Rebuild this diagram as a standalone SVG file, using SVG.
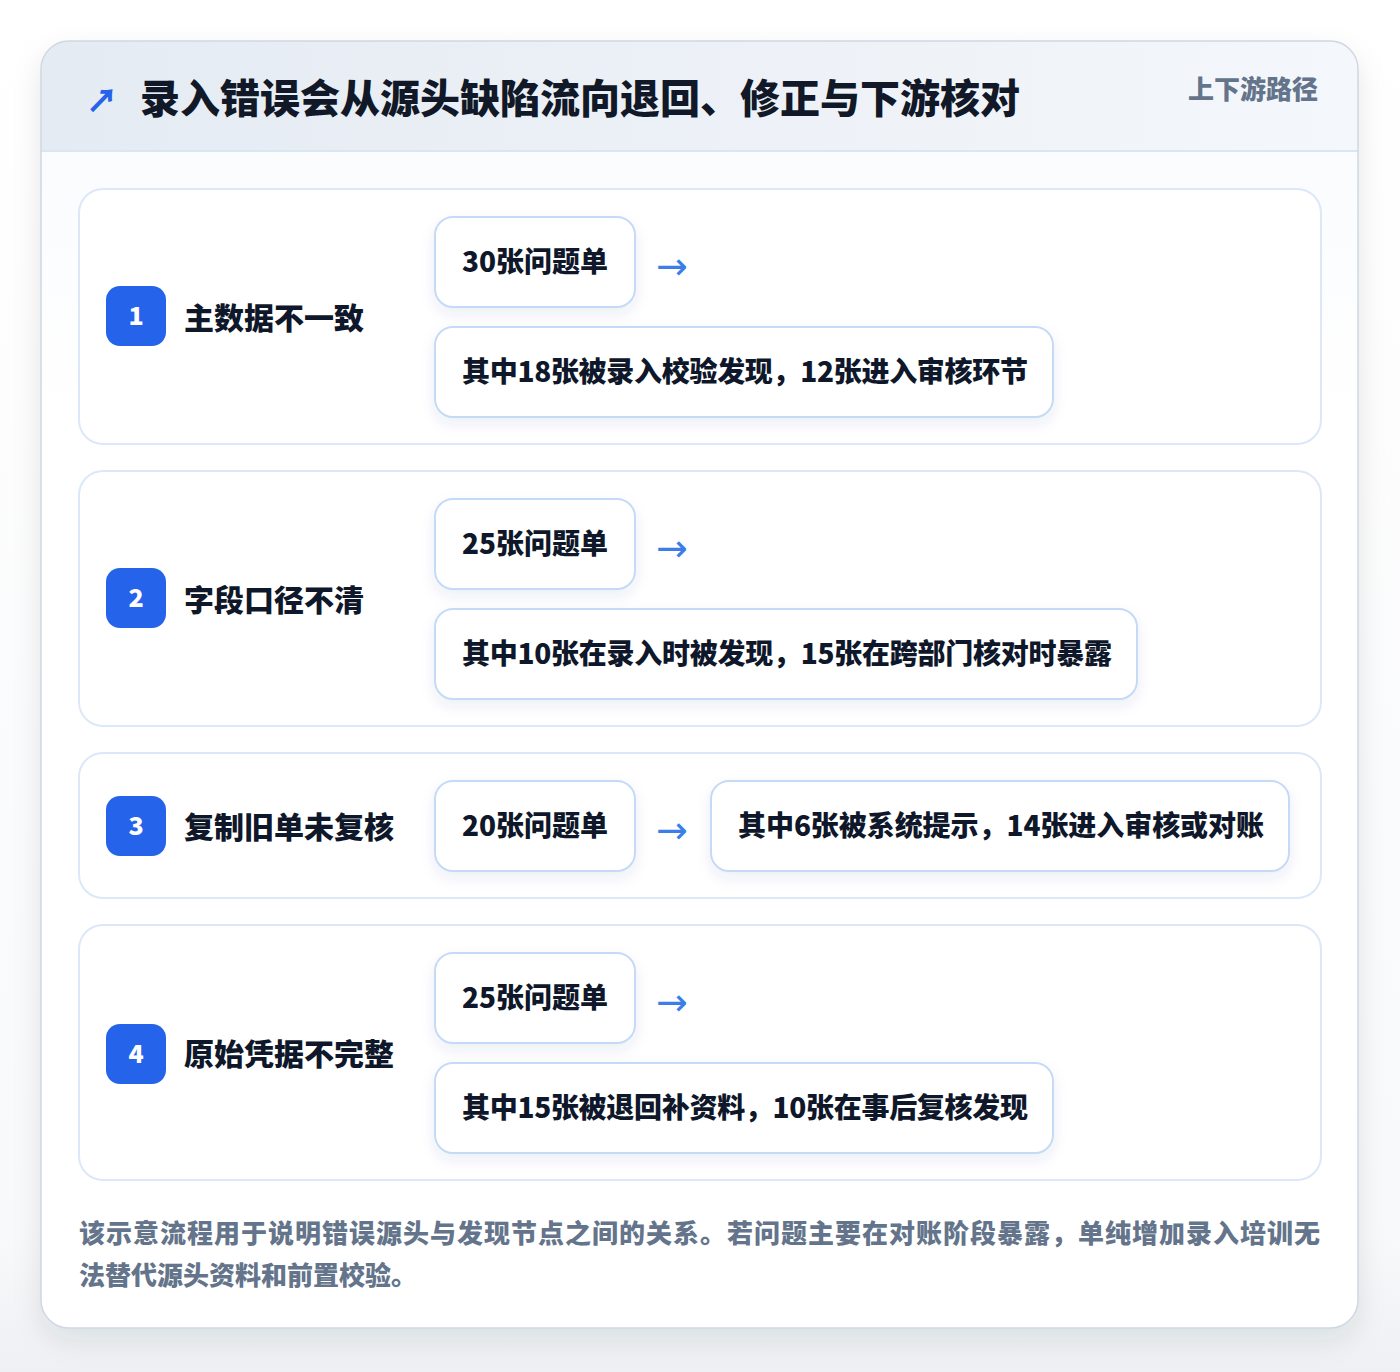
<svg xmlns="http://www.w3.org/2000/svg" width="1400" height="1372" viewBox="0 0 1400 1372">
<defs>
<linearGradient id="hdr" x1="0" y1="0" x2="1" y2="0">
<stop offset="0" stop-color="#e5ebf3"/>
<stop offset="1" stop-color="#f4f7fb"/>
</linearGradient>
<linearGradient id="body" x1="0" y1="0" x2="0" y2="1">
<stop offset="0" stop-color="#f8fafd"/>
<stop offset="0.3" stop-color="#ffffff"/>
<stop offset="1" stop-color="#ffffff"/>
</linearGradient>
<linearGradient id="page" x1="0" y1="0" x2="0" y2="1">
<stop offset="0" stop-color="#ffffff"/>
<stop offset="0.9" stop-color="#f8f9fb"/>
<stop offset="1" stop-color="#eef0f3"/>
</linearGradient>
<filter id="cardShadow" x="-10%" y="-10%" width="120%" height="120%">
<feDropShadow dx="0" dy="12" stdDeviation="14" flood-color="#1e293b" flood-opacity="0.10"/>
</filter>
<filter id="chipShadow" x="-20%" y="-30%" width="140%" height="170%">
<feDropShadow dx="0" dy="6" stdDeviation="7" flood-color="#1e3a8a" flood-opacity="0.08"/>
</filter>
<clipPath id="cardClip"><rect x="41" y="41" width="1317" height="1287" rx="28"/></clipPath>
</defs>
<style>
.cjk{font-family:"Noto Sans CJK SC","Noto Sans",sans-serif;font-weight:900}
.title{font-size:40px;fill:#111827}
.tag{font-size:26px;fill:#64748b}
.row{fill:#ffffff;stroke:#dce8f8;stroke-width:2}
.badge{fill:#2563eb}
.num{font-family:"Noto Sans CJK SC","Noto Sans",sans-serif;font-weight:900;font-size:25px;fill:#ffffff}
.label{font-size:30px;fill:#0f172a}
.chip{fill:#ffffff;stroke:#c5daf6;stroke-width:2}
.chiptxt{font-size:28px;fill:#0f172a}
.arrow{font-family:"DejaVu Sans",sans-serif;font-weight:400;font-size:38px;fill:#3b7de9}
.foot{font-size:26px;fill:#64748b}
</style>
<rect x="0" y="0" width="1400" height="1372" fill="url(#page)"/>
<g id="card">
<rect x="41" y="41" width="1317" height="1287" rx="28" fill="url(#body)" filter="url(#cardShadow)"/>
<g clip-path="url(#cardClip)">
<rect x="41" y="41" width="1317" height="110" fill="url(#hdr)"/>
<line x1="41" y1="151" x2="1358" y2="151" stroke="#dbe6f3" stroke-width="2"/>
</g>
<rect x="41" y="41" width="1317" height="1287" rx="28" fill="none" stroke="#cfd8e3" stroke-width="1.5"/>
</g>
<g id="header">
<text class="cjk" x="86" y="112" font-size="32" fill="#2563eb">↗</text>
<text class="cjk title" x="140" y="113">录入错误会从源头缺陷流向退回、修正与下游核对</text>
<text class="cjk tag" x="1188" y="99">上下游路径</text>
</g>
<g id="row1">
<rect class="row" x="79" y="189" width="1242" height="255" rx="24"/>
<rect class="badge" x="106" y="286" width="60" height="60" rx="14"/>
<text class="num" x="136" y="325" text-anchor="middle">1</text>
<text class="cjk label" x="184" y="329">主数据不一致</text>
<g id="row1-a"><rect class="chip" x="435" y="217" width="200" height="90" rx="18" filter="url(#chipShadow)"/>
<text class="cjk chiptxt" x="462" y="272">30张问题单</text></g>
<g id="row1-b"><rect class="chip" x="435" y="327" width="618" height="90" rx="18" filter="url(#chipShadow)"/>
<text class="cjk chiptxt" x="462" y="382" textLength="566" lengthAdjust="spacing">其中18张被录入校验发现，12张进入审核环节</text></g>
</g>
<g id="row2">
<rect class="row" x="79" y="471" width="1242" height="255" rx="24"/>
<rect class="badge" x="106" y="568" width="60" height="60" rx="14"/>
<text class="num" x="136" y="607" text-anchor="middle">2</text>
<text class="cjk label" x="184" y="611">字段口径不清</text>
<g id="row2-a"><rect class="chip" x="435" y="499" width="200" height="90" rx="18" filter="url(#chipShadow)"/>
<text class="cjk chiptxt" x="462" y="554">25张问题单</text></g>
<g id="row2-b"><rect class="chip" x="435" y="609" width="702" height="90" rx="18" filter="url(#chipShadow)"/>
<text class="cjk chiptxt" x="462" y="664" textLength="650" lengthAdjust="spacing">其中10张在录入时被发现，15张在跨部门核对时暴露</text></g>
</g>
<g id="row3">
<rect class="row" x="79" y="753" width="1242" height="145" rx="24"/>
<rect class="badge" x="106" y="796" width="60" height="60" rx="14"/>
<text class="num" x="136" y="835" text-anchor="middle">3</text>
<text class="cjk label" x="184" y="838">复制旧单未复核</text>
<g id="row3-a"><rect class="chip" x="435" y="781" width="200" height="90" rx="18" filter="url(#chipShadow)"/>
<text class="cjk chiptxt" x="462" y="836">20张问题单</text></g>
<g id="row3-b"><rect class="chip" x="711" y="781" width="578" height="90" rx="18" filter="url(#chipShadow)"/>
<text class="cjk chiptxt" x="738" y="836" textLength="526" lengthAdjust="spacing">其中6张被系统提示，14张进入审核或对账</text></g>
</g>
<g id="row4">
<rect class="row" x="79" y="925" width="1242" height="255" rx="24"/>
<rect class="badge" x="106" y="1024" width="60" height="60" rx="14"/>
<text class="num" x="136" y="1063" text-anchor="middle">4</text>
<text class="cjk label" x="184" y="1065">原始凭据不完整</text>
<g id="row4-a"><rect class="chip" x="435" y="953" width="200" height="90" rx="18" filter="url(#chipShadow)"/>
<text class="cjk chiptxt" x="462" y="1008">25张问题单</text></g>
<g id="row4-b"><rect class="chip" x="435" y="1063" width="618" height="90" rx="18" filter="url(#chipShadow)"/>
<text class="cjk chiptxt" x="462" y="1118" textLength="566" lengthAdjust="spacing">其中15张被退回补资料，10张在事后复核发现</text></g>
</g>
<g id="connectors">
<text class="arrow" x="656" y="279">→</text>
<text class="arrow" x="656" y="561">→</text>
<text class="arrow" x="656" y="843">→</text>
<text class="arrow" x="656" y="1015">→</text>
</g>
<g id="footer">
<text class="cjk foot" x="79" y="1243" textLength="1241" lengthAdjust="spacing">该示意流程用于说明错误源头与发现节点之间的关系。若问题主要在对账阶段暴露，单纯增加录入培训无</text>
<text class="cjk foot" x="79" y="1285">法替代源头资料和前置校验。</text>
</g>
</svg>
